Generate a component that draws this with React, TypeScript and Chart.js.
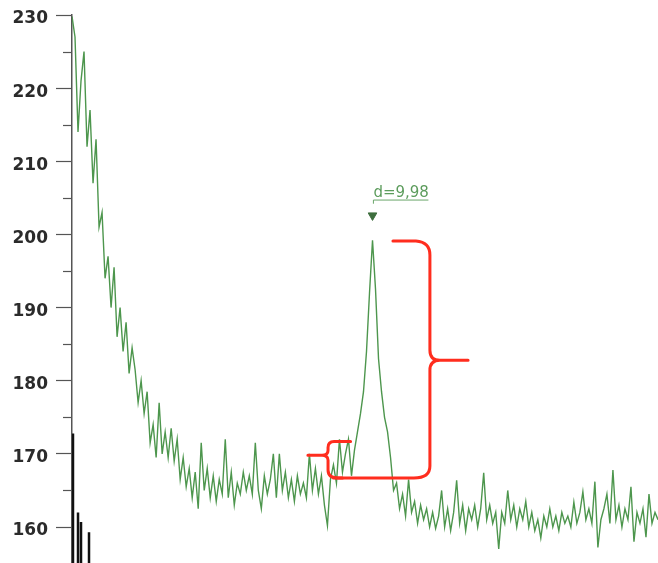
import { useEffect, useRef } from 'react';
import { Chart, registerables } from 'chart.js';

Chart.register(...registerables);

// Diffraction intensity, one value per channel step
const intensity: number[] = [
  229.8, 227, 214, 221, 225, 212, 217, 207, 213, 201,
  203, 194, 197, 190, 195.5, 186, 190, 184, 188, 181,
  184.5, 181.5, 177, 180, 175.5, 178.5, 171.5, 174, 169.5, 177,
  170, 173, 169.5, 173.5, 169, 172, 166.5, 169.5, 165.5, 168,
  164, 167.5, 162.5, 171.5, 165, 168, 164, 167, 163.5, 166.5,
  164.5, 172, 164, 167.5, 163, 166, 164.5, 167.5, 165, 167,
  164.5, 171.5, 165, 162.5, 167, 164.5, 166.5, 170, 164, 170,
  165, 167.5, 164, 166.5, 163.5, 167, 164.5, 166, 164, 170,
  165, 168, 164.5, 167, 163, 160.2, 166.5, 168.5, 166, 172,
  167.5, 170, 172, 167, 170.5, 173, 175.5, 178.5, 184, 192,
  199.2, 192.5, 183, 178.5, 175, 173, 169.5, 165, 166, 162.5,
  164.5, 161.5, 166.5, 162, 163.5, 160.5, 163, 161, 162.5, 160,
  162, 159.8, 161.5, 165, 160, 162.5, 159.5, 162, 166.4, 160.5,
  163, 159.5, 162.5, 161, 163, 160, 162.5, 167.4, 161, 163,
  160.5, 162, 157, 162, 160.5, 165, 161, 163, 160, 162.5,
  161, 163.5, 160, 162, 159.5, 161, 158.5, 161.5, 160, 162.5,
  160, 161.5, 159.5, 162, 160.5, 161.5, 160, 163.4, 160.5, 162,
  164.8, 161, 162.5, 160.5, 166.2, 157.2, 161, 162.5, 164.5, 160.5,
  167.8, 161, 163, 160, 162.5, 161, 165.5, 158, 162, 160.5,
  162.5, 158.6, 164.5, 160.5, 162, 161,
];

const yTickValues = [160, 165, 170, 175, 180, 185, 190, 195, 200, 205, 210, 215, 220, 225, 230];

// Reference stick pattern (black) at the low-angle end
const stickChannels = [0.33, 2.0, 3.0, 5.66];
const stickHeights = [172.8, 162, 160.7, 159.3];

const peakChannel = 100;
const peakMarkerValue = 202.6;
const peakLabel = 'd=9,98';

const Y_MIN = 155.08;
const Y_MAX = 230;

const annotationPlugin = {
  id: 'annotations',
  afterDatasetsDraw(chart: any) {
    const ctx = chart.ctx;
    const xs = chart.scales.x;
    const ys = chart.scales.y;
    const X = (v: number) => xs.getPixelForValue(v);
    const Y = (v: number) => ys.getPixelForValue(v);
    const area = chart.chartArea;

    // minor ticks
    ctx.save();
    ctx.strokeStyle = '#555';
    ctx.lineWidth = 1.2;
    yTickValues.forEach((v) => {
      if (v % 10 !== 0) {
        const py = Math.round(Y(v)) + 0.5;
        ctx.beginPath();
        ctx.moveTo(area.left - 9, py);
        ctx.lineTo(area.left, py);
        ctx.stroke();
      }
    });
    ctx.restore();

    // peak label
    ctx.save();
    ctx.fillStyle = '#5c9c5c';
    ctx.strokeStyle = '#6aa66a';
    ctx.font = '15px "DejaVu Sans"';
    ctx.textBaseline = 'alphabetic';
    const lx = X(peakChannel + 0.3);
    ctx.fillText(peakLabel, lx, Y(205.1));
    ctx.lineWidth = 1;
    ctx.beginPath();
    ctx.moveTo(lx, Y(204.7));
    ctx.lineTo(X(118.6), Y(204.7));
    ctx.moveTo(lx, Y(204.7));
    ctx.lineTo(lx, Y(204.2));
    ctx.stroke();
    ctx.restore();

    // red braces
    ctx.save();
    ctx.strokeStyle = '#ff2d1e';
    ctx.lineWidth = 3;
    ctx.lineCap = 'round';
    ctx.lineJoin = 'round';
    const bx = X(119.1);
    const top = Y(199.1);
    const bottom = Y(166.7);
    const tipX = X(131.8);
    const tipY = Y(182.8);
    ctx.beginPath();
    ctx.moveTo(X(106.8), top);
    ctx.lineTo(bx - 14, top);
    ctx.quadraticCurveTo(bx, top + 1, bx, top + 14);
    ctx.lineTo(bx, tipY - 10);
    ctx.quadraticCurveTo(bx, tipY, bx + 10, tipY);
    ctx.lineTo(tipX, tipY);
    ctx.moveTo(bx + 10, tipY);
    ctx.quadraticCurveTo(bx, tipY, bx, tipY + 10);
    ctx.lineTo(bx, bottom - 12);
    ctx.quadraticCurveTo(bx, bottom, bx - 16, bottom);
    ctx.lineTo(X(87), bottom);
    ctx.stroke();

    const sTop = Y(171.7);
    const sx = X(85.2);
    const sRight = X(92.7);
    const sTipX = X(78.5);
    const sTipY = Y(169.8);
    ctx.beginPath();
    ctx.moveTo(sRight, sTop);
    ctx.lineTo(sx + 6, sTop);
    ctx.quadraticCurveTo(sx, sTop, sx, sTop + 6);
    ctx.lineTo(sx, sTipY - 5);
    ctx.quadraticCurveTo(sx, sTipY, sx - 6, sTipY);
    ctx.lineTo(sTipX, sTipY);
    ctx.moveTo(sx - 6, sTipY);
    ctx.quadraticCurveTo(sx, sTipY, sx, sTipY + 5);
    ctx.lineTo(sx, bottom - 8);
    ctx.quadraticCurveTo(sx, bottom, sx + 10, bottom);
    ctx.lineTo(X(90), bottom);
    ctx.stroke();
    ctx.restore();
  },
};

export default function App() {
  const ref = useRef<HTMLCanvasElement | null>(null);

  useEffect(() => {
    if (!ref.current) return;
    const stickData: any[] = [];
    stickChannels.forEach((c, i) => {
      stickData.push({ x: c, y: 150 });
      stickData.push({ x: c, y: stickHeights[i] });
      stickData.push({ x: c, y: null });
    });

    const chart = new Chart(ref.current, {
      type: 'line',
      data: {
        datasets: [
          {
            label: 'sticks',
            data: stickData,
            borderColor: '#111',
            borderWidth: 2.5,
            pointRadius: 0,
            spanGaps: false,
          },
          {
            label: 'intensity',
            data: intensity.map((v, i) => ({ x: i, y: v })),
            borderColor: '#4d964d',
            borderWidth: 1.4,
            pointRadius: 0,
            tension: 0,
          },
          {
            label: 'peak',
            data: [{ x: peakChannel, y: peakMarkerValue }],
            showLine: false,
            pointStyle: 'triangle',
            rotation: 180,
            pointRadius: 5,
            pointBackgroundColor: '#3e6e3e',
            pointBorderColor: '#3e6e3e',
          },
        ],
      },
      options: {
        animation: false,
        responsive: false,
        layout: { autoPadding: false, padding: { top: 15, left: 0, right: 0, bottom: 0 } },
        plugins: {
          legend: { display: false },
          tooltip: { enabled: false },
        },
        scales: {
          x: {
            type: 'linear',
            min: 0,
            max: intensity.length - 1,
            display: false,
          },
          y: {
            type: 'linear',
            min: Y_MIN,
            max: Y_MAX,
            afterBuildTicks: (axis: any) => {
              axis.ticks = yTickValues.map((v) => ({ value: v }));
            },
            afterFit: (axis: any) => {
              axis.width = 72;
              axis.paddingTop = 0;
              axis.paddingBottom = 0;
            },
            border: { display: true, color: '#555', width: 1.5 },
            grid: {
              drawOnChartArea: false,
              drawTicks: true,
              tickLength: 16,
              tickWidth: 1.2,
              tickColor: (c: any) => (c.tick && c.tick.value % 10 === 0 ? '#555' : 'rgba(0,0,0,0)'),
            },
            ticks: {
              padding: 8,
              labelOffset: 4,
              color: '#2b2b2b',
              font: { family: '"DejaVu Sans"', weight: 'bold', size: 17 },
              callback: (v: any) => (Number(v) % 10 === 0 ? String(v) : ''),
            },
          },
        },
      },
      plugins: [annotationPlugin],
    });
    return () => chart.destroy();
  }, []);

  return (
    <div style={{ position: 'absolute', left: 0, top: 0, width: 658, height: 563, background: '#fff' }}>
      <canvas ref={ref} width={658} height={563} />
    </div>
  );
}
